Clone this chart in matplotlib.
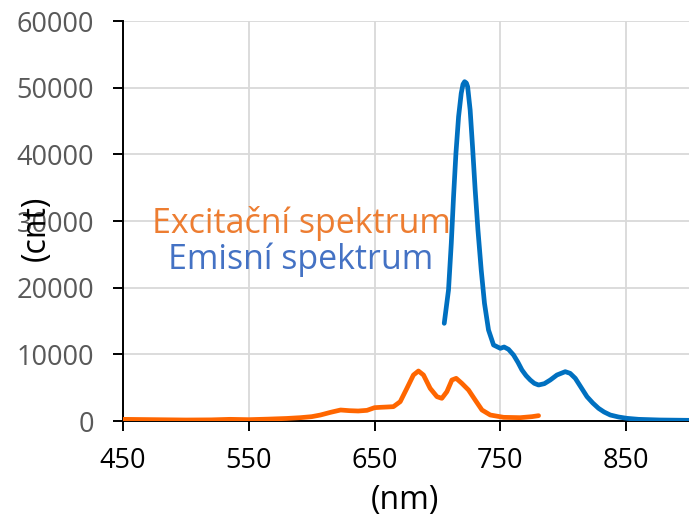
import matplotlib
matplotlib.use("Agg")
import matplotlib.pyplot as plt

# ── DATA ─────────────────────────────────────────────

# Excitation spectrum (wavelength in nm, counts)
exc_nm = [450, 475, 500, 520, 535, 550, 565, 580, 591, 600, 607, 615, 623, 630,
          637, 644, 650, 654.5, 660, 665, 670.4, 675.7, 680.9, 684.9, 688.9, 694.2,
          699.6, 703.5, 707.5, 711.5, 714.9, 719.4, 724.7, 730, 735.4, 742, 752.6,
          765.8, 775.1, 780.4]
exc_cnt = [250, 200, 150, 170, 250, 200, 280, 380, 500, 650, 900, 1300, 1650, 1550,
           1500, 1600, 2000, 2050, 2100, 2150, 2900, 4900, 6900, 7500, 6900, 4900,
           3650, 3400, 4400, 6150, 6400, 5650, 4650, 3150, 1650, 900, 550,
           500, 650, 800]

# Emission spectrum (wavelength in nm, counts)
em_nm = [705.4, 708.8, 711.0, 712.8, 714.7, 716.8, 718.9, 720.3, 721.6, 723.0, 724.0,
         726.0, 727.9, 730.0, 732.2, 734.8, 737.4, 740.6, 744.6, 750.0, 753.0, 756.5,
         760.5, 764.0, 767.2, 770.5, 773.8, 777.0, 780.4, 785.0, 789.7, 795.0,
         801.6, 805.5, 809.6, 814.0, 818.9, 823.5, 828.1, 832.5, 837.4, 844.0,
         850.7, 860.0, 877.0, 900.0]
em_cnt = [14650, 19650, 26650, 33650, 40150, 45650, 49150, 50500, 50900, 50700, 50150,
          46650, 41150, 34650, 28650, 22650, 17650, 13650, 11400, 10900, 11100, 10750,
          9900, 8800, 7650, 6800, 6150, 5650, 5400, 5600, 6150, 6900,
          7400, 7150, 6400, 5100, 3650, 2700, 1900, 1350, 900, 600,
          400, 250, 150, 100]

x_ticks = [450, 550, 650, 750, 850]
y_ticks = [0, 10000, 20000, 30000, 40000, 50000, 60000]

exc_label = "Excitační spektrum"
em_label = "Emisní spektrum"

# ── PLOT ─────────────────────────────────────────────

plt.rcParams["font.family"] = ["Open Sans", "DejaVu Sans"]

fig = plt.figure(figsize=(6.89, 5.17), dpi=100)
ax = fig.add_axes([123 / 689, 96 / 517, 566 / 689, 400 / 517])

ax.plot(exc_nm, exc_cnt, color="#FF6600", lw=3.4, solid_capstyle="round",
        solid_joinstyle="round", zorder=3)
ax.plot(em_nm, em_cnt, color="#0070C0", lw=3.4, solid_capstyle="round",
        solid_joinstyle="round", zorder=3)

ax.set_xlim(450, 900)
ax.set_ylim(0, 60000)
ax.set_xticks(x_ticks)
ax.set_yticks(y_ticks)

# Axis styling
ax.grid(True, color="#D9D9D9", lw=1.3, zorder=0)
ax.set_axisbelow(True)
for side in ["top", "right"]:
    ax.spines[side].set_visible(False)
for side in ["left", "bottom"]:
    ax.spines[side].set_color("black")
    ax.spines[side].set_linewidth(1.4)
    ax.spines[side].set_zorder(2)

ax.tick_params(axis="y", direction="out", length=7, width=1.4, labelsize=19.5,
               labelcolor="#595959", pad=14)
ax.tick_params(axis="x", direction="out", length=7, width=1.4, labelsize=19.5,
               labelcolor="black", pad=12)

ax.set_xlabel("(nm)", fontsize=23)
ax.xaxis.set_label_coords(0.498, -0.158)
ax.set_ylabel("(cnt)", fontsize=23)
ax.yaxis.set_label_coords(-0.124, 0.4825)

# Series labels inside the plot
ax.text(591.5, 28200, exc_label, color="#ED7D31", fontsize=24.5,
        ha="center", va="baseline", zorder=4)
ax.text(591.5, 22800, em_label, color="#4472C4", fontsize=24.5,
        ha="center", va="baseline", zorder=4)

fig.savefig("out.png", dpi=100)
